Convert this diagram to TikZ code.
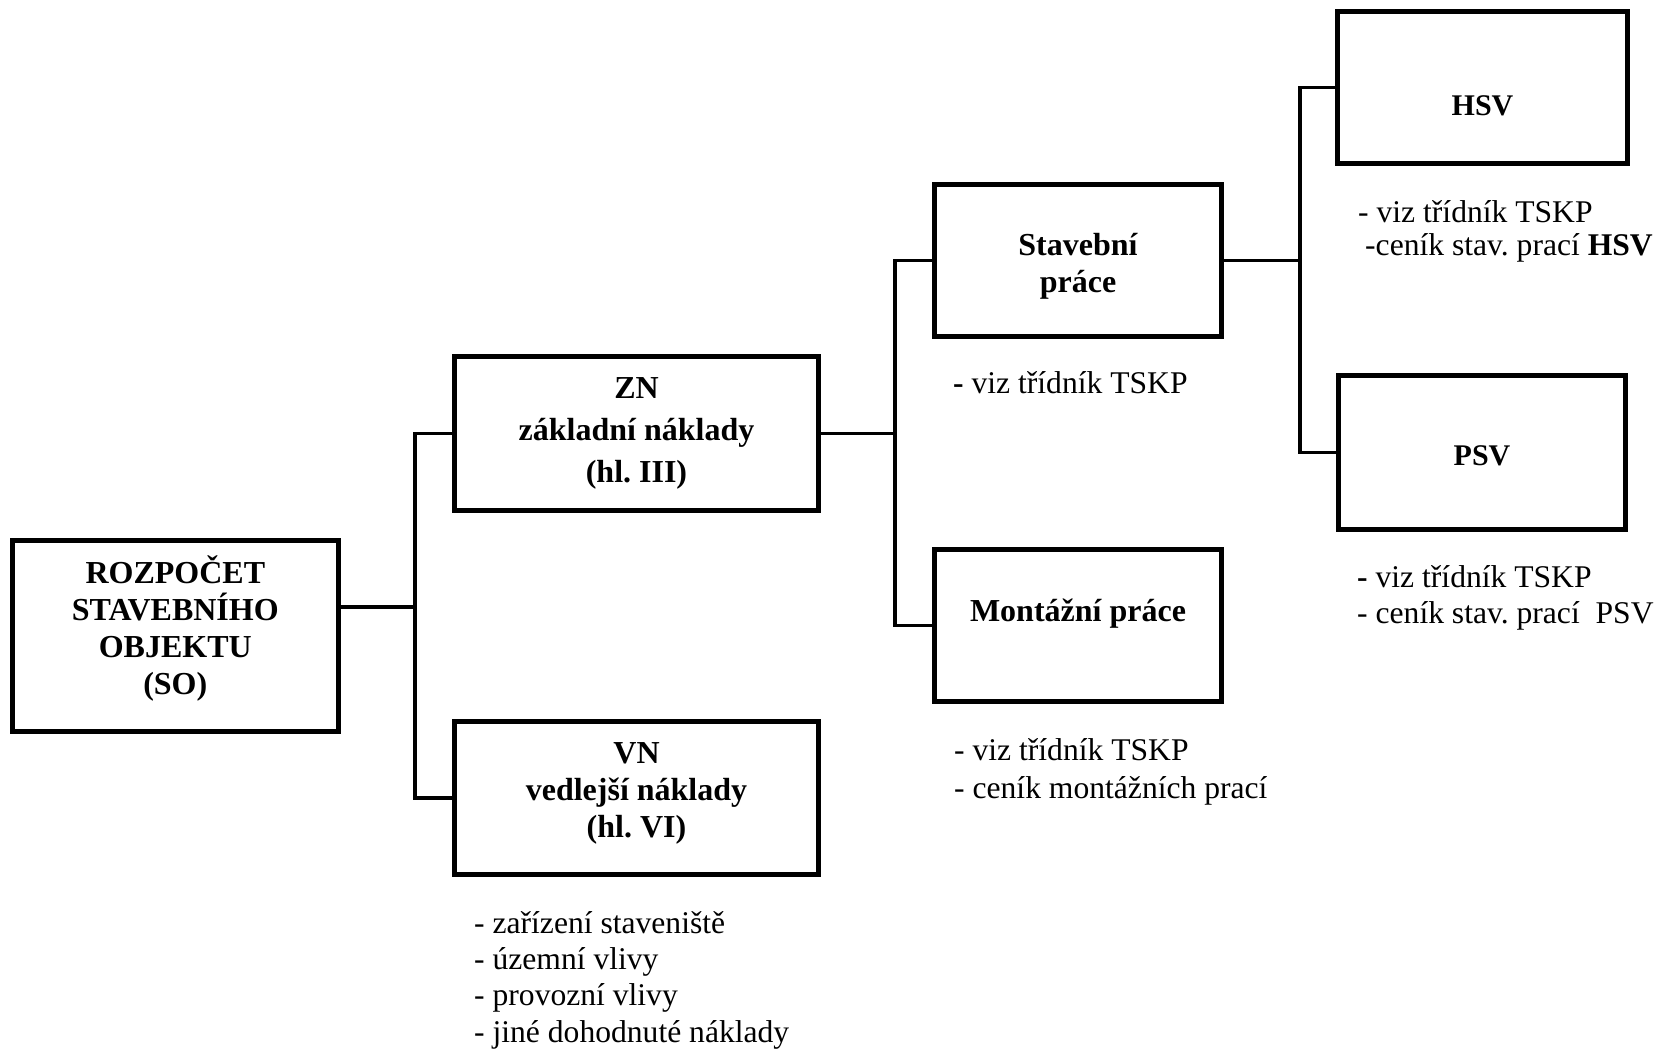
\documentclass[tikz,border=0pt]{standalone}
\usepackage{fontspec}
\setmainfont{Liberation Serif}
\frenchspacing
\newcommand\btext[3]{\raisebox{#1pt}[0pt][0pt]{\vtop{\baselineskip=#2pt\lineskip=0pt\lineskiplimit=-1000pt\halign{\hfil##\hfil\cr#3\crcr}}}}
\begin{document}
\begin{tikzpicture}[x=1pt,y=-1pt,
  bx/.style={draw, line width=5pt, rectangle, inner sep=0pt, line join=miter,
    font=\bfseries\fontsize{32}{37}\selectfont},
  bxs/.style={bx, font=\bfseries\fontsize{30}{35}\selectfont},
  conn/.style={draw, line width=3.2pt, line join=miter},
  note/.style={anchor=base west, inner sep=0pt, font=\fontsize{31.6}{36}\selectfont}]
\useasboundingbox (0,0) rectangle (1664,1053);

% boxes
\node[bx, minimum width=325.5pt, minimum height=190.5pt] (SO) at (175.3,636)
  {\btext{53}{37}{ROZPOČET\cr STAVEBNÍHO\cr OBJEKTU\cr (SO)}};
\node[bx, minimum width=364pt, minimum height=154pt] (ZN) at (636.5,433.5)
  {\btext{35.5}{42}{ZN\cr základní náklady\cr (hl. III)}};
\node[bx, minimum width=364pt, minimum height=153pt] (VN) at (636.5,798)
  {\btext{35}{37}{VN\cr vedlejší náklady\cr (hl. VI)}};
\node[bx, minimum width=287pt, minimum height=152pt] (ST) at (1078,260.5)
  {\btext{5.5}{37}{Stavební\cr práce}};
\node[bx, minimum width=287pt, minimum height=152pt] (MO) at (1078,625.5)
  {\btext{4.5}{37}{Montážní práce}};
\node[bxs, minimum width=290pt, minimum height=152pt] (HS) at (1482.5,87.5)
  {\btext{-27.5}{35}{HSV}};
\node[bxs, minimum width=287pt, minimum height=154pt] (PS) at (1482,452.5)
  {\btext{-12.5}{35}{PSV}};

% junctions
\coordinate (j1) at (415,607);
\coordinate (j2) at (895,434);
\coordinate (j3) at (1300,260);

% connectors
\draw[conn] (SO.east |- j1) -- (j1);
\draw[conn] (ZN.west) -- (ZN.west -| j1) -- (VN.west -| j1) -- (VN.west);
\draw[conn] (ZN.east) -- (ZN.east -| j2);
\draw[conn] (ST.west) -- (ST.west -| j2) -- (MO.west -| j2) -- (MO.west);
\draw[conn] (ST.east) -- (ST.east -| j3);
\draw[conn] (HS.west) -- (HS.west -| j3) -- (PS.west -| j3) -- (PS.west);

% notes
\node[note] (hs1) at (1358,222) {- viz třídník TSKP};
\node[note] (hs2) at (1365,255) {-ceník stav. prací \textbf{HSV}};
\node[note] (st1) at (953,393) {\textbf{-} viz třídník TSKP};
\node[note] (ps1) at (1357,587) {\textbf{-} viz třídník TSKP};
\node[note] (ps2) at (1357,623) {- ceník stav. prací\ \ PSV};
\node[note] (mo1) at (954,760) {- viz třídník TSKP};
\node[note] (mo2) at (954,798) {- ceník montážních prací};
\node[note] (vn1) at (474,933) {- zařízení staveniště};
\node[note] (vn2) at (474,969.3) {- územní vlivy};
\node[note] (vn3) at (474,1005.6) {- provozní vlivy};
\node[note] (vn4) at (474,1042) {- jiné dohodnuté náklady};
\end{tikzpicture}
\end{document}
